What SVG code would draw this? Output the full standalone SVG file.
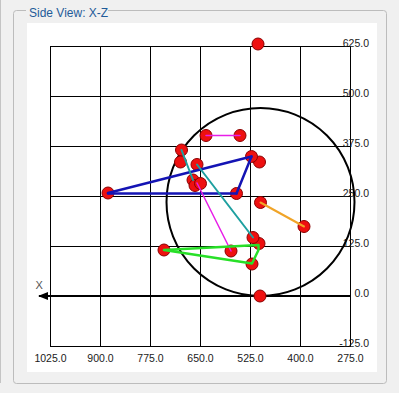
<svg xmlns="http://www.w3.org/2000/svg" width="399" height="393" viewBox="0 0 399 393">
<defs>
<style>
.grid{stroke:#000;stroke-width:1;fill:none}
.lbl{font-family:"Liberation Sans",Arial,sans-serif;font-size:10.5px;fill:#1a1a1a}
.rl{text-anchor:end}
.bl{text-anchor:middle}
.node{fill:#ee1010;stroke:#8a0000;stroke-width:1}
.c{fill:none;stroke-linecap:round;stroke-linejoin:round}
.blue{stroke:#1414b4;stroke-width:2.5}
.teal{stroke:#1ea0a0;stroke-width:2}
.mag{stroke:#e81ee8;stroke-width:1.5}
.grn{stroke:#28e028;stroke-width:2.5}
.org{stroke:#f0a428;stroke-width:2}
</style>
<marker id="arr" viewBox="0 0 10 8" refX="1" refY="4" markerWidth="10" markerHeight="8" markerUnits="userSpaceOnUse" orient="auto">
<path d="M10,0 L0,4 L10,8 Z" fill="#000"/>
</marker>
</defs>
<rect width="399" height="393" fill="#f0f0f0"/>
<line x1="0.5" y1="0" x2="0.5" y2="383" stroke="#c4c4c4"/>
<path d="M26,10.5 H16.5 Q13.5,10.5 13.5,13.5 V380.5 Q13.5,383.5 16.5,383.5 H383.5 Q386.5,383.5 386.5,380.5 V13.5 Q386.5,10.5 383.5,10.5 H108" fill="none" stroke="#bcbcbc"/>
<text x="29" y="17" font-family="'Liberation Sans',Arial,sans-serif" font-size="12" fill="#1f5b99">Side View: X-Z</text>
<rect x="27" y="23" width="350" height="349" fill="#fff"/>
<g id="grid" class="grid">
<path d="M50.5,46 V346 M100.5,46 V346 M150.5,46 V346 M200.5,46 V346 M250.5,46 V346 M300.5,46 V346 M350.5,46 V346"/>
<path d="M50,46.5 H351 M50,96.5 H351 M50,146.5 H351 M50,196.5 H351 M50,246.5 H351 M50,346.5 H351"/>
</g>
<g id="labels" class="lbl">
<text class="rl" x="369" y="47">625.0</text>
<text class="rl" x="369" y="97">500.0</text>
<text class="rl" x="369" y="147">375.0</text>
<text class="rl" x="369" y="197">250.0</text>
<text class="rl" x="369" y="247">125.0</text>
<text class="rl" x="369" y="297">0.0</text>
<text class="rl" x="369" y="347">-125.0</text>
<text class="bl" x="50.5" y="362">1025.0</text>
<text class="bl" x="100.5" y="362">900.0</text>
<text class="bl" x="150.5" y="362">775.0</text>
<text class="bl" x="200.5" y="362">650.0</text>
<text class="bl" x="250.5" y="362">525.0</text>
<text class="bl" x="300.5" y="362">400.0</text>
<text class="bl" x="350.5" y="362">275.0</text>
<text x="35.5" y="289" font-size="11" fill="#555">X</text>
</g>
<circle id="envelope" cx="260.5" cy="202" r="94" fill="none" stroke="#000" stroke-width="2"/>
<line id="x-axis" x1="39" y1="296" x2="350" y2="296" stroke="#000" stroke-width="2" marker-start="url(#arr)"/>
<g id="nodes">
<g id="n1"><circle class="node" cx="258" cy="44" r="6"/></g>
<g id="n2"><circle class="node" cx="206" cy="135.5" r="6"/></g>
<g id="n3"><circle class="node" cx="240" cy="135.5" r="6"/></g>
<g id="n4"><circle class="node" cx="181.5" cy="150" r="6"/></g>
<g id="n5"><circle class="node" cx="180.5" cy="162" r="6"/></g>
<g id="n6"><circle class="node" cx="197" cy="164.5" r="6"/></g>
<g id="n8"><circle class="node" cx="259.5" cy="162" r="6"/></g>
<g id="n7"><circle class="node" cx="251.5" cy="156.5" r="6"/></g>
<g id="n9"><circle class="node" cx="193" cy="180" r="6"/></g>
<g id="n11"><circle class="node" cx="195" cy="185.5" r="6"/></g>
<g id="n10"><circle class="node" cx="200.5" cy="183.5" r="6"/></g>
<g id="n12"><circle class="node" cx="108" cy="193" r="6"/></g>
<g id="n13"><circle class="node" cx="236.5" cy="193.5" r="6"/></g>
<g id="n14"><circle class="node" cx="260.5" cy="202.5" r="6"/></g>
<g id="n15"><circle class="node" cx="304" cy="226.5" r="6"/></g>
<g id="n17"><circle class="node" cx="259" cy="243.5" r="6"/></g>
<g id="n16"><circle class="node" cx="253" cy="237.5" r="6"/></g>
<g id="n18"><circle class="node" cx="252" cy="264" r="6"/></g>
<g id="n19"><circle class="node" cx="164" cy="250" r="6"/></g>
<g id="n20"><circle class="node" cx="231" cy="251" r="6"/></g>
<g id="n21"><circle class="node" cx="260" cy="296" r="6"/></g>
</g>
<g id="connectors" class="c">
<line class="mag" x1="206" y1="135.5" x2="240" y2="135.5"/>
<line class="blue" x1="108" y1="193" x2="251.5" y2="156.5"/>
<line class="blue" x1="108" y1="193.5" x2="236.5" y2="193.5" stroke-width="3"/>
<line class="blue" x1="236.5" y1="193.5" x2="251.5" y2="156.5"/>
<line class="teal" x1="181.5" y1="150" x2="193" y2="180"/>
<line class="teal" x1="197" y1="164.5" x2="253" y2="237.5"/>
<line class="mag" x1="197" y1="183" x2="231" y2="251"/>
<line class="org" x1="260.5" y1="202.5" x2="304" y2="226.5"/>
<polygon class="grn" points="164,250 258.5,245 258.5,250 252,263.5"/>
</g>
</svg>
